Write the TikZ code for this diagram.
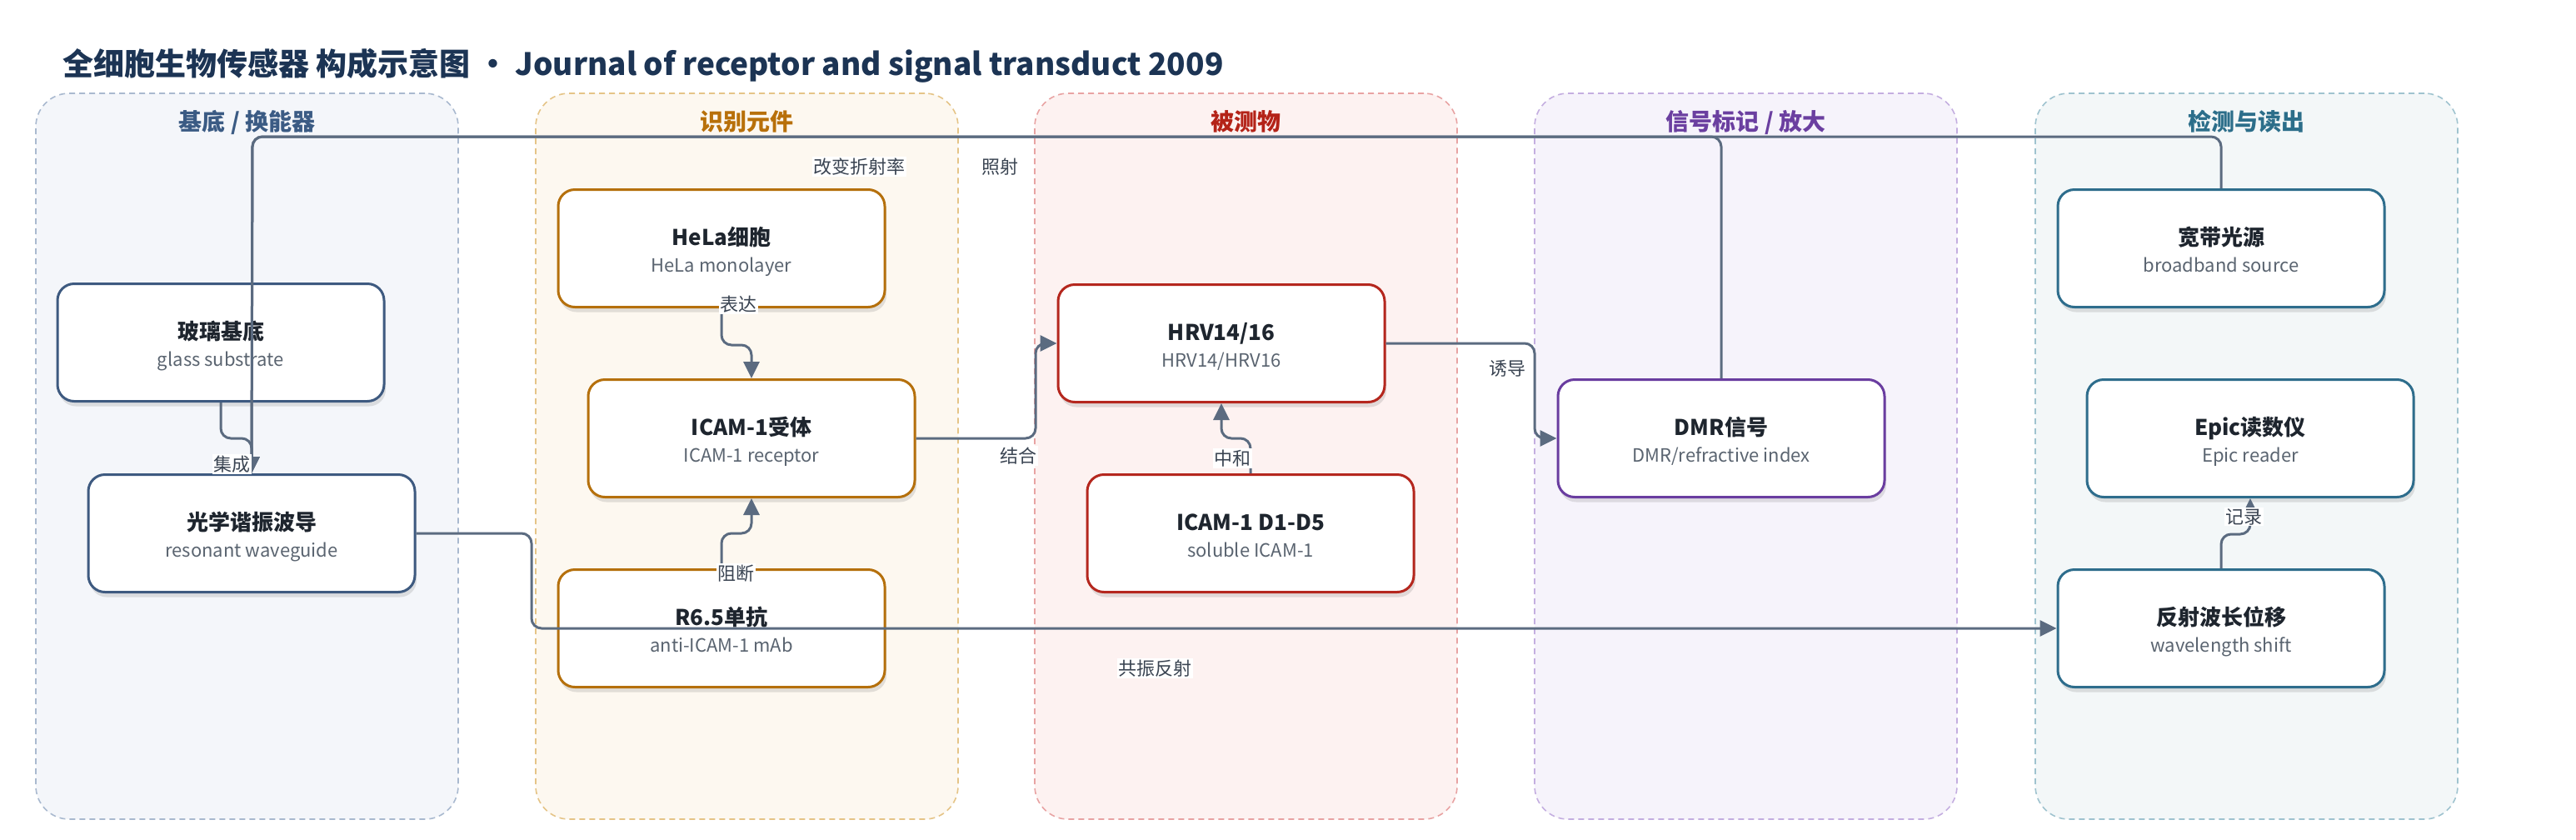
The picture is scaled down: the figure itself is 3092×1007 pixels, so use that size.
\documentclass[tikz,border=0pt]{standalone}
\usepackage{fontspec}
\setmainfont{Noto Sans CJK SC}
\usetikzlibrary{arrows.meta,shadows}
\definecolor{titlec}{HTML}{1C3454}
\definecolor{conn}{HTML}{5B6B80}
\definecolor{lblc}{HTML}{3A4452}
\definecolor{subc}{HTML}{5A6470}
\definecolor{ttlc}{HTML}{1E252E}
\definecolor{fA}{HTML}{F4F6FA}\definecolor{bA}{HTML}{A9B9CF}\definecolor{tA}{HTML}{3B5B84}\definecolor{nA}{HTML}{3E5A80}
\definecolor{fB}{HTML}{FDF8F0}\definecolor{bB}{HTML}{E5C487}\definecolor{tB}{HTML}{B8700A}\definecolor{nB}{HTML}{B5700C}
\definecolor{fC}{HTML}{FDF2F1}\definecolor{bC}{HTML}{E8A3A3}\definecolor{tC}{HTML}{B42318}\definecolor{nC}{HTML}{B5271E}
\definecolor{fD}{HTML}{F6F3FB}\definecolor{bD}{HTML}{C4AEE0}\definecolor{tD}{HTML}{6B3FA0}\definecolor{nD}{HTML}{6A3DA0}
\definecolor{fE}{HTML}{F3F7F8}\definecolor{bE}{HTML}{9FC3CF}\definecolor{tE}{HTML}{2C6E8A}\definecolor{nE}{HTML}{2E6D8C}
\tikzset{
  lanebox/.style={draw, dashed, dash pattern=on 7pt off 5pt, line width=1.6pt, rounded corners=40pt,
    minimum width=507pt, minimum height=871pt, inner sep=0pt},
  lanetitle/.style={anchor=base, font=\fontsize{28}{32}\selectfont\bfseries},
  box/.style={draw=#1, line width=3pt, rounded corners=20pt, fill=white, minimum width=392pt,
    minimum height=141pt, inner sep=0pt,
    drop shadow={opacity=0.18, shadow xshift=2pt, shadow yshift=-6pt, fill=black!60}},
  ttl/.style={anchor=base, font=\fontsize{26}{30}\selectfont\bfseries, text=ttlc, inner sep=0pt},
  subt/.style={anchor=base, font=\fontsize{22}{26}\selectfont, text=subc, inner sep=0pt},
  connector/.style={draw=conn, line width=3pt, rounded corners=12pt,
    -{Triangle[length=20pt,width=19pt]}},
  lbl/.style={fill=white, text=lblc, font=\fontsize{22}{26}\selectfont, inner sep=1.5pt},
}
\begin{document}
\begin{tikzpicture}[x=1pt,y=-1pt]
\useasboundingbox[fill=white] (0,0) rectangle (3092,1007);
% title
\node[anchor=base west, inner sep=0pt, text=titlec, font=\fontsize{37}{41}\selectfont\bfseries] (title) at (75,90)
  {全细胞生物传感器 构成示意图 · Journal of receptor and signal transduct 2009};
% lanes
\node[lanebox, fill=fA, draw=bA] (laneA) at (296.5,547.5) {};
\node[lanebox, fill=fB, draw=bB] (laneB) at (896.5,547.5) {};
\node[lanebox, fill=fC, draw=bC] (laneC) at (1495.5,547.5) {};
\node[lanebox, fill=fD, draw=bD] (laneD) at (2095.5,547.5) {};
\node[lanebox, fill=fE, draw=bE] (laneE) at (2696.5,547.5) {};
\node[lanetitle, text=tA] (ltA) at (296.5,156) {基底 / 换能器};
\node[lanetitle, text=tB] (ltB) at (896.5,156) {识别元件};
\node[lanetitle, text=tC] (ltC) at (1495.5,156) {被测物};
\node[lanetitle, text=tD] (ltD) at (2095.5,156) {信号标记 / 放大};
\node[lanetitle, text=tE] (ltE) at (2696.5,156) {检测与读出};
% nodes
\node[box=nA] (glass) at (265,411) {};
\node[box=nA] (wave) at (302,640) {};
\node[box=nB] (hela) at (866,298) {};
\node[box=nB] (icam) at (902,526) {};
\node[box=nB] (r65) at (866,754) {};
\node[box=nC] (hrv) at (1466,412) {};
\node[box=nC] (d15) at (1501,640) {};
\node[box=nD] (dmr) at (2066,526) {};
\node[box=nE] (src) at (2666,298) {};
\node[box=nE] (epic) at (2701,526) {};
\node[box=nE] (shift) at (2666,754) {};
\foreach \n/\t/\s in {glass/玻璃基底/glass substrate, wave/光学谐振波导/resonant waveguide,
  hela/HeLa细胞/HeLa monolayer, icam/ICAM-1受体/ICAM-1 receptor, r65/R6.5单抗/anti-ICAM-1 mAb,
  hrv/HRV14\slash 16/HRV14\slash HRV16, d15/ICAM-1 D1-D5/soluble ICAM-1, dmr/DMR信号/DMR\slash refractive index,
  src/宽带光源/broadband source, epic/Epic读数仪/Epic reader, shift/反射波长位移/wavelength shift}{
  \node[ttl] (\n-t) at ([yshift=4pt]\n.center) {\t};
  \node[subt] (\n-s) at ([yshift=-28pt]\n.center) {\s};
}
% connectors
\draw[connector] (glass.south) -- (265,526) -- (302,526) -- (wave.north);
\draw[connector] (src.north) -- (2666,164) -- (303,164) -- (wave.north);
\draw[connector] (dmr.north) -- (2066,164) -- (303,164) -- (wave.north);
\draw[connector] (hela.south) -- (866,414) -- (902,414) -- (icam.north);
\draw[connector] (r65.north) -- (866,640) -- (902,640) -- (icam.south);
\draw[connector] (icam.east) -- (1243,526) -- (1243,412) -- (hrv.west);
\draw[connector] (d15.north) -- (1501,526) -- (1466,526) -- (hrv.south);
\draw[connector] (hrv.east) -- (1842,412) -- (1842,526) -- (dmr.west);
\draw[connector] (wave.east) -- (638,640) -- (638,754) -- (shift.west);
\draw[connector] (shift.north) -- (2666,641) -- (2701,641) -- (epic.south);
% labels
\node[lbl] (l1) at (278,557) {集成};
\node[lbl] (l2) at (1031,200) {改变折射率};
\node[lbl] (l3) at (1200,200) {照射};
\node[lbl] (l4) at (886,365) {表达};
\node[lbl] (l5) at (883,688) {阻断};
\node[lbl] (l6) at (1222,547) {结合};
\node[lbl] (l7) at (1479,550) {中和};
\node[lbl] (l8) at (1809,442) {诱导};
\node[lbl] (l9) at (1386,802) {共振反射};
\node[lbl] (l10) at (2693,620) {记录};
\end{tikzpicture}
\end{document}
